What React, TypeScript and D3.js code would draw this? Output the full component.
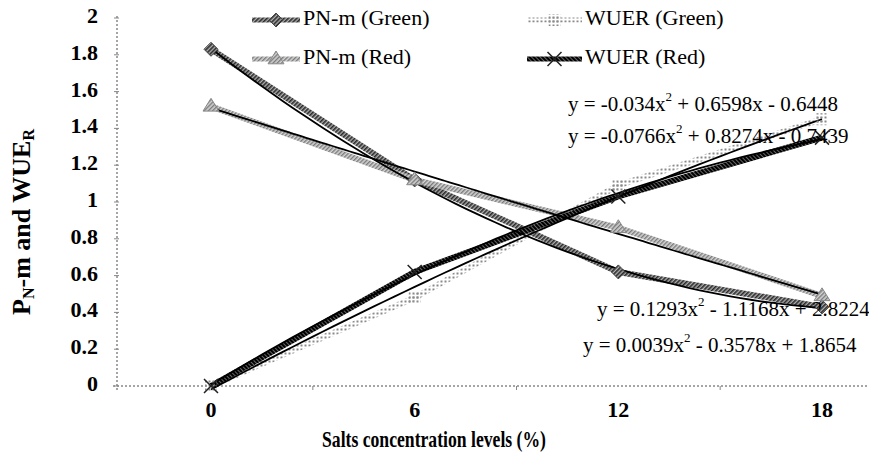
import React from "react";
import * as d3 from "d3";

// Salt levels (%) on the category axis
const categories = ["0", "6", "12", "18"];

// Series values per salt level
const pnGreen = [1.83, 1.12, 0.62, 0.43];
const pnRed = [1.52, 1.12, 0.86, 0.49];
const wueGreen = [0.0, 0.48, 1.09, 1.45];
const wueRed = [0.0, 0.62, 1.03, 1.35];

// Polynomial trendline coefficients (y = a x^2 + b x + c, x = 1..4)
const trendWueGreen = [-0.034, 0.6598, -0.6448];
const trendWueRed = [-0.0766, 0.8274, -0.7439];
const trendPnGreen = [0.1293, -1.1168, 2.8224];
const trendPnRed = [0.0039, -0.3578, 1.8654];

const yTicks = [0, 0.2, 0.4, 0.6, 0.8, 1, 1.2, 1.4, 1.6, 1.8, 2];

const W = 869;
const H = 461;
const FONT = "'Liberation Serif', 'Times New Roman', serif";

const x = d3.scaleLinear().domain([0, 3]).range([211, 822]);
const y = d3.scaleLinear().domain([0, 2]).range([386, 18]);
const axisX = 117;

const line = d3
  .line<number>()
  .x((_, i) => x(i))
  .y((v) => y(v));

function trendPath(coef: number[]) {
  const ts = d3.range(1, 4.0001, 0.05);
  return d3
    .line<number>()
    .x((t) => x(t - 1))
    .y((t) => y(coef[0] * t * t + coef[1] * t + coef[2]))
    .curve(d3.curveBasis)(ts) as string;
}

function sign(v: number) {
  return v < 0 ? "-" : "+";
}

function Equation({ coef, xs, yc }: { coef: number[]; xs: number; yc: number }) {
  return (
    <text x={xs} y={yc} dominantBaseline="middle" fontSize={21} fontFamily={FONT} fill="#000">
      {`y = ${coef[0]}x`}
      <tspan fontSize={13} dy={-8}>2</tspan>
      <tspan dy={8}>{` ${sign(coef[1])} ${Math.abs(coef[1])}x ${sign(coef[2])} ${Math.abs(coef[2])}`}</tspan>
    </text>
  );
}

function Diamond({ cx, cy, s = 7 }: { cx: number; cy: number; s?: number }) {
  return (
    <path
      d={`M${cx},${cy - s}L${cx + s},${cy}L${cx},${cy + s}L${cx - s},${cy}Z`}
      fill="url(#hatchDark)"
      stroke="#444"
      strokeWidth={1}
    />
  );
}

function Triangle({ cx, cy, s = 8 }: { cx: number; cy: number; s?: number }) {
  return (
    <path
      d={`M${cx},${cy - s}L${cx + s},${cy + s * 0.6}L${cx - s},${cy + s * 0.6}Z`}
      fill="url(#hatchLight)"
      stroke="#888"
      strokeWidth={1}
    />
  );
}

function Square({ cx, cy, s = 6 }: { cx: number; cy: number; s?: number }) {
  return <rect x={cx - s} y={cy - s} width={2 * s} height={2 * s} fill="url(#dots)" stroke="none" />;
}

function Cross({ cx, cy, s = 7 }: { cx: number; cy: number; s?: number }) {
  return (
    <path d={`M${cx - s},${cy - s}L${cx + s},${cy + s}M${cx - s},${cy + s}L${cx + s},${cy - s}`} stroke="#222" strokeWidth={1.5} />
  );
}

const seriesStyles = [
  { name: "PN-m (Green)", data: pnGreen, stroke: "url(#hatchDark)", width: 6, Marker: Diamond },
  { name: "PN-m (Red)", data: pnRed, stroke: "url(#hatchLight)", width: 6, Marker: Triangle },
  { name: "WUER (Green)", data: wueGreen, stroke: "url(#dots)", width: 6, Marker: Square },
  { name: "WUER (Red)", data: wueRed, stroke: "url(#hatchBlack)", width: 6, Marker: Cross },
];

const legendPos = [
  { x0: 252, x1: 300, tx: 303, ty: 20 },
  { x0: 252, x1: 300, tx: 303, ty: 59 },
  { x0: 527, x1: 582, tx: 585, ty: 20 },
  { x0: 527, x1: 582, tx: 585, ty: 59 },
];

export default function App() {
  const step = x(1) - x(0);
  const xTickPos = d3.range(1, 4).map((i) => x(0) - step / 2 + i * step);
  return (
    <svg width={W} height={H} style={{ position: "absolute", left: 0, top: 0, background: "#fff" }}>
      <defs>
        <pattern id="hatchDark" patternUnits="userSpaceOnUse" width="3" height="3" patternTransform="rotate(45)">
          <rect width="3" height="3" fill="#b0b0b0" />
          <rect width="1.6" height="3" fill="#2a2a2a" />
        </pattern>
        <pattern id="hatchLight" patternUnits="userSpaceOnUse" width="3" height="3" patternTransform="rotate(45)">
          <rect width="3" height="3" fill="#d4d4d4" />
          <rect width="1.4" height="3" fill="#7a7a7a" />
        </pattern>
        <pattern id="hatchBlack" patternUnits="userSpaceOnUse" width="3" height="3" patternTransform="rotate(-45)">
          <rect width="3" height="3" fill="#666" />
          <rect width="2" height="3" fill="#000" />
        </pattern>
        <pattern id="dots" patternUnits="userSpaceOnUse" width="4" height="4">
          <rect width="4" height="4" fill="#fff" fillOpacity={0} />
          <rect x="0.5" y="0.5" width="2" height="2" fill="#8a8a8a" />
        </pattern>
      </defs>
      <rect width={W} height={H} fill="#fff" />

      {/* axes */}
      <line x1={axisX} x2={axisX} y1={y(2) - 2} y2={y(0) + 4} stroke="#888" strokeWidth={1.5} strokeDasharray="2,2" />
      <line x1={axisX - 4} x2={W} y1={y(0)} y2={y(0)} stroke="#888" strokeWidth={1.5} strokeDasharray="2,2" />
      {yTicks.map((t) => (
        <g key={t}>
          <line x1={axisX - 3} x2={axisX + 2} y1={y(t)} y2={y(t)} stroke="#888" strokeWidth={1} />
          <text x={98} y={y(t)} textAnchor="end" dominantBaseline="middle" fontFamily={FONT} fontWeight="bold" fontSize={22}>
            {String(t)}
          </text>
        </g>
      ))}
      {xTickPos.map((p, i) => (
        <line key={i} x1={p} x2={p} y1={y(0)} y2={y(0) + 4} stroke="#888" strokeWidth={1} />
      ))}
      {categories.map((c, i) => (
        <text key={c} x={x(i)} y={412} textAnchor="middle" dominantBaseline="middle" fontFamily={FONT} fontWeight="bold" fontSize={22}>
          {c}
        </text>
      ))}
      <text x={434} y={442} textAnchor="middle" dominantBaseline="middle" fontFamily={FONT} fontWeight="bold" fontSize={23} textLength={224} lengthAdjust="spacingAndGlyphs">
        Salts concentration levels (%)
      </text>
      <text transform={`translate(24,222) rotate(-90)`} textAnchor="middle" dominantBaseline="middle" fontFamily={FONT} fontWeight="bold" fontSize={26}>
        P<tspan fontSize={16} dy={6}>N</tspan>
        <tspan dy={-6}>-m and WUE</tspan>
        <tspan fontSize={16} dy={6}>R</tspan>
      </text>

      {/* series lines */}
      {seriesStyles.map((s) => (
        <path key={s.name} d={line(s.data) as string} fill="none" stroke={s.stroke} strokeWidth={s.width} strokeLinejoin="round" />
      ))}

      {/* trendlines */}
      {[trendPnGreen, trendPnRed, trendWueGreen, trendWueRed].map((c, i) => (
        <path key={i} d={trendPath(c)} fill="none" stroke="#000" strokeWidth={1.8} />
      ))}

      {/* markers */}
      {seriesStyles.map((s) => s.data.map((v, i) => <s.Marker key={s.name + i} cx={x(i)} cy={y(v)} />))}

      {/* legend */}
      {seriesStyles.map((s, i) => {
        const p = legendPos[i];
        return (
          <g key={s.name}>
            <line x1={p.x0} x2={p.x1} y1={p.ty} y2={p.ty} stroke={s.stroke} strokeWidth={s.width - 1} />
            <s.Marker cx={(p.x0 + p.x1) / 2} cy={p.ty} />
            <text x={p.tx} y={p.ty} dominantBaseline="middle" fontFamily={FONT} fontSize={22}>
              {s.name}
            </text>
          </g>
        );
      })}

      {/* equations */}
      <Equation coef={trendWueGreen} xs={568} yc={106} />
      <Equation coef={trendWueRed} xs={568} yc={138} />
      <Equation coef={trendPnGreen} xs={597} yc={311} />
      <Equation coef={trendPnRed} xs={583} yc={347} />
    </svg>
  );
}
